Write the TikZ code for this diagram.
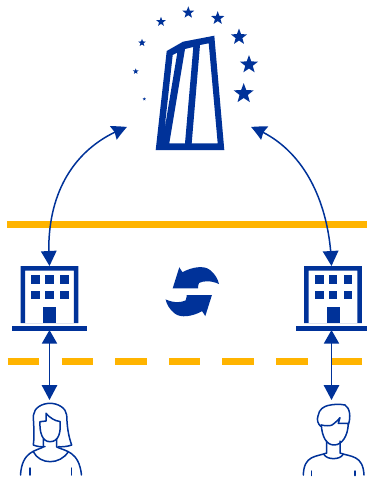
\documentclass[tikz,border=0pt]{standalone}
\usetikzlibrary{arrows.meta,shapes.geometric,bending}
\definecolor{ecb}{HTML}{003299}
\definecolor{gold}{HTML}{FFB400}
\tikzset{
  starshape/.style={star,star points=5,star point ratio=2.4,fill=ecb,inner sep=0pt,minimum size=#1},
  goldline/.style={draw=gold,line width=7pt},
  golddash/.style={draw=gold,line width=6.5pt},
  link/.style={draw=ecb,line width=1.5pt,{Stealth[length=13.5pt,width=15pt,inset=0pt]}-{Stealth[length=15pt,width=15.5pt,inset=0pt]}},
  arc link/.style={draw=ecb,line width=1.5pt,{Stealth[length=15pt,width=15pt,inset=1.5pt,bend]}-{Stealth[length=15pt,width=15.5pt,inset=0pt]}},
  outline/.style={draw=ecb,line width=1.5pt,line join=round,line cap=round},
}
\newcommand{\officeblock}[1]{%
  \begin{scope}[shift={(#1,0)}]
    \fill[ecb,even odd rule] (-28.8,266) rectangle (28.8,323) (-24.3,270.5) rectangle (24.3,323);
    \fill[ecb] (-37.2,325.7) rectangle (37.8,330.7);
    \foreach \wx in {-18.2,-4.3,10.5}{\foreach \wy in {275.3,290.7}{
      \fill[ecb] (\wx,\wy) rectangle ++(8.7,8.7);}}
    \fill[ecb] (-6.5,306.7) rectangle (6.8,323.3);
  \end{scope}}
\begin{document}
\begin{tikzpicture}[x=1pt,y=-1pt]
\useasboundingbox (0,0) rectangle (367,477);
% gold lines
\draw[goldline] (7,224) -- (367,224);
\foreach \dx/\dw in {7.7/31,61.7/31,115/32,169/31,222/32,276/32,331/31}{
  \draw[golddash] (\dx,361.7) -- ++(\dw,0);}
% tower
\fill[ecb,even odd rule] (166.7,51) -- (183,41.7) -- (214.3,35.7) -- (224.3,150) -- (155.7,150) -- cycle
  (172.7,55) -- (177.3,52.7) -- (164.3,131) -- cycle
  (185,49) -- (193.3,47) -- (185,143.3) -- (169.3,143.3) -- cycle
  (200,45) -- (208.7,43.3) -- (217.7,143.3) -- (191.7,143.3) -- cycle;
\node[starshape=12.5pt] (s1) at (188.3,12.6) {};
\node[starshape=14pt] (s2) at (217.7,18.2) {};
\node[starshape=10pt] (s3) at (161,21.8) {};
\node[starshape=17pt] (s4) at (239,37) {};
\node[starshape=19pt] (s5) at (249,64.6) {};
\node[starshape=21pt] (s6) at (243.7,93.6) {};
\node[starshape=8pt] (s7) at (142,42.8) {};
\node[starshape=6pt] (s8) at (135.7,71.4) {};
\node[starshape=3.5pt] (s9) at (144.3,99) {};
% buildings
\officeblock{49.5}
\officeblock{333}
% sync icon
\foreach \ang in {0,180}{
  \fill[ecb,rotate around={\ang:(192.3,291.7)}] (172.7,288.3) -- (179.3,267.3) -- (182.5,272.2)
    .. controls (192,267) and (204,265) .. (210,270)
    .. controls (215,274) and (218,279) .. (219,284)
    .. controls (210,280) and (203,281) .. (199,283)
    .. controls (198,285) and (198,287) .. (198,288.3) -- cycle;
}
% anchors
\coordinate (towerL) at (127,127);
\coordinate (towerR) at (251,127);
\coordinate (bankLt) at (49.5,266);
\coordinate (bankRt) at (331.5,266);
\coordinate (bankLb) at (49.5,330);
\coordinate (bankRb) at (331.5,330);
\coordinate (userL) at (49.5,400);
\coordinate (userR) at (331.5,400);
% connectors
\draw[arc link] (towerL) .. controls (70,148) and (44,200) .. (bankLt);
\draw[arc link] (towerR) .. controls (305,147) and (330,205) .. (bankRt);
\draw[link] (bankLb) -- (userL);
\draw[link] (bankRb) -- (userR);
% woman
\draw[outline] (45,446.7) .. controls (41,447) and (37,446.5) .. (33.3,445) .. controls (35,432) and (33,422) .. (33.5,415) .. controls (34,408) and (42,403.3) .. (50,403.3) .. controls (58,403.3) and (66,408) .. (66.7,415) .. controls (67,425) and (68,435) .. (71.7,445) .. controls (68,446.5) and (62,447) .. (58.3,446.7);
\draw[outline] (40,421.7) -- (46,421) -- (46,413.3) .. controls (50,418) and (55,421) .. (60,421.5) .. controls (61,432) and (59,441.7) .. (50,441.7) .. controls (42,441.7) and (39.5,432) .. (40,421.7);
\draw[outline] (43.3,439) -- (43.3,447) .. controls (36,451) and (22,451) .. (20.5,475);
\draw[outline] (56.7,439) -- (56.7,447) .. controls (65,451) and (79,451) .. (81.5,475);
\draw[outline] (33.3,451.7) .. controls (40,465) and (60,465) .. (68.3,451.7);
\draw[outline] (30,468) -- (30,475);
\draw[outline] (71.7,468) -- (71.7,475);
% man
\draw[outline] (321,426.7) .. controls (318,424) and (316.5,420) .. (318,416) .. controls (319,409) and (324,406.5) .. (328,405.5) .. controls (334,404) and (340,404) .. (345,405) .. controls (350,408) and (351,417) .. (348.3,425);
\draw[outline] (321,425) .. controls (326,426) and (330,426) .. (332,425) .. controls (335,423) and (338,420) .. (340,417.7) -- (338.3,423.3) -- (348.3,423.3);
\draw[outline] (321.3,425) .. controls (322,436) and (326,445) .. (334,445) .. controls (342,445) and (348,436) .. (348.3,423.3);
\draw[outline] (326.7,441) -- (326.7,453) .. controls (316,457) and (304,455) .. (303.3,475);
\draw[outline] (340,441) -- (340,453) .. controls (351,457) and (363,455) .. (364,475);
\draw[outline] (324,454.5) .. controls (327,460) and (340,460) .. (343,454.5);
\draw[outline] (311.7,471) -- (311.7,475.5);
\draw[outline] (355,471) -- (355,475.5);
\end{tikzpicture}
\end{document}
